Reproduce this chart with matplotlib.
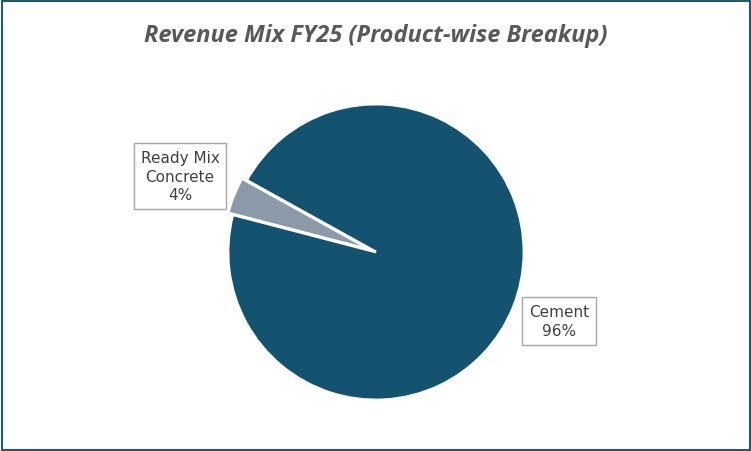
import matplotlib.pyplot as plt
from matplotlib.patches import Rectangle

labels = ["Ready Mix\nConcrete", "Cement"]
values = [4, 96]
pct_labels = ["4%", "96%"]
colors = ["#8a9aa9", "#13536f"]

fig = plt.figure(figsize=(7.51, 4.52), dpi=100)
ax = fig.add_axes([0, 0, 1, 1])
ax.set_xlim(0, 751); ax.set_ylim(0, 452); ax.set_aspect("equal"); ax.axis("off")
ax.add_patch(Rectangle((1.5, 1.5), 748, 449, fill=False, edgecolor="#1f5a73", linewidth=1.5))

cx, cy, r = 376, 452 - 253, 148
ax.pie(values, colors=colors, startangle=151, counterclock=True,
       radius=r, center=(cx, cy), explode=[5, 0], frame=True,
       wedgeprops=dict(edgecolor="white", linewidth=2))
ax.set_xlim(0, 751); ax.set_ylim(0, 452); ax.axis("off")

ax.text(376, 452 - 36, "Revenue Mix FY25 (Product-wise Breakup)", ha="center", va="center",
        fontsize=17, fontstyle="italic", fontweight="bold", color="#595959", family="Open Sans")

box = dict(boxstyle="square,pad=0.45", facecolor="white", edgecolor="#a6a6a6", linewidth=1)
ax.text(180, 452 - 177, f"{labels[0]}\n{pct_labels[0]}", ha="center", va="center", fontsize=11,
        color="#404040", bbox=box, linespacing=1.3)
ax.text(559, 452 - 322, f"{labels[1]}\n{pct_labels[1]}", ha="center", va="center", fontsize=11,
        color="#404040", bbox=box, linespacing=1.3)
fig.savefig("out.png", dpi=100)
